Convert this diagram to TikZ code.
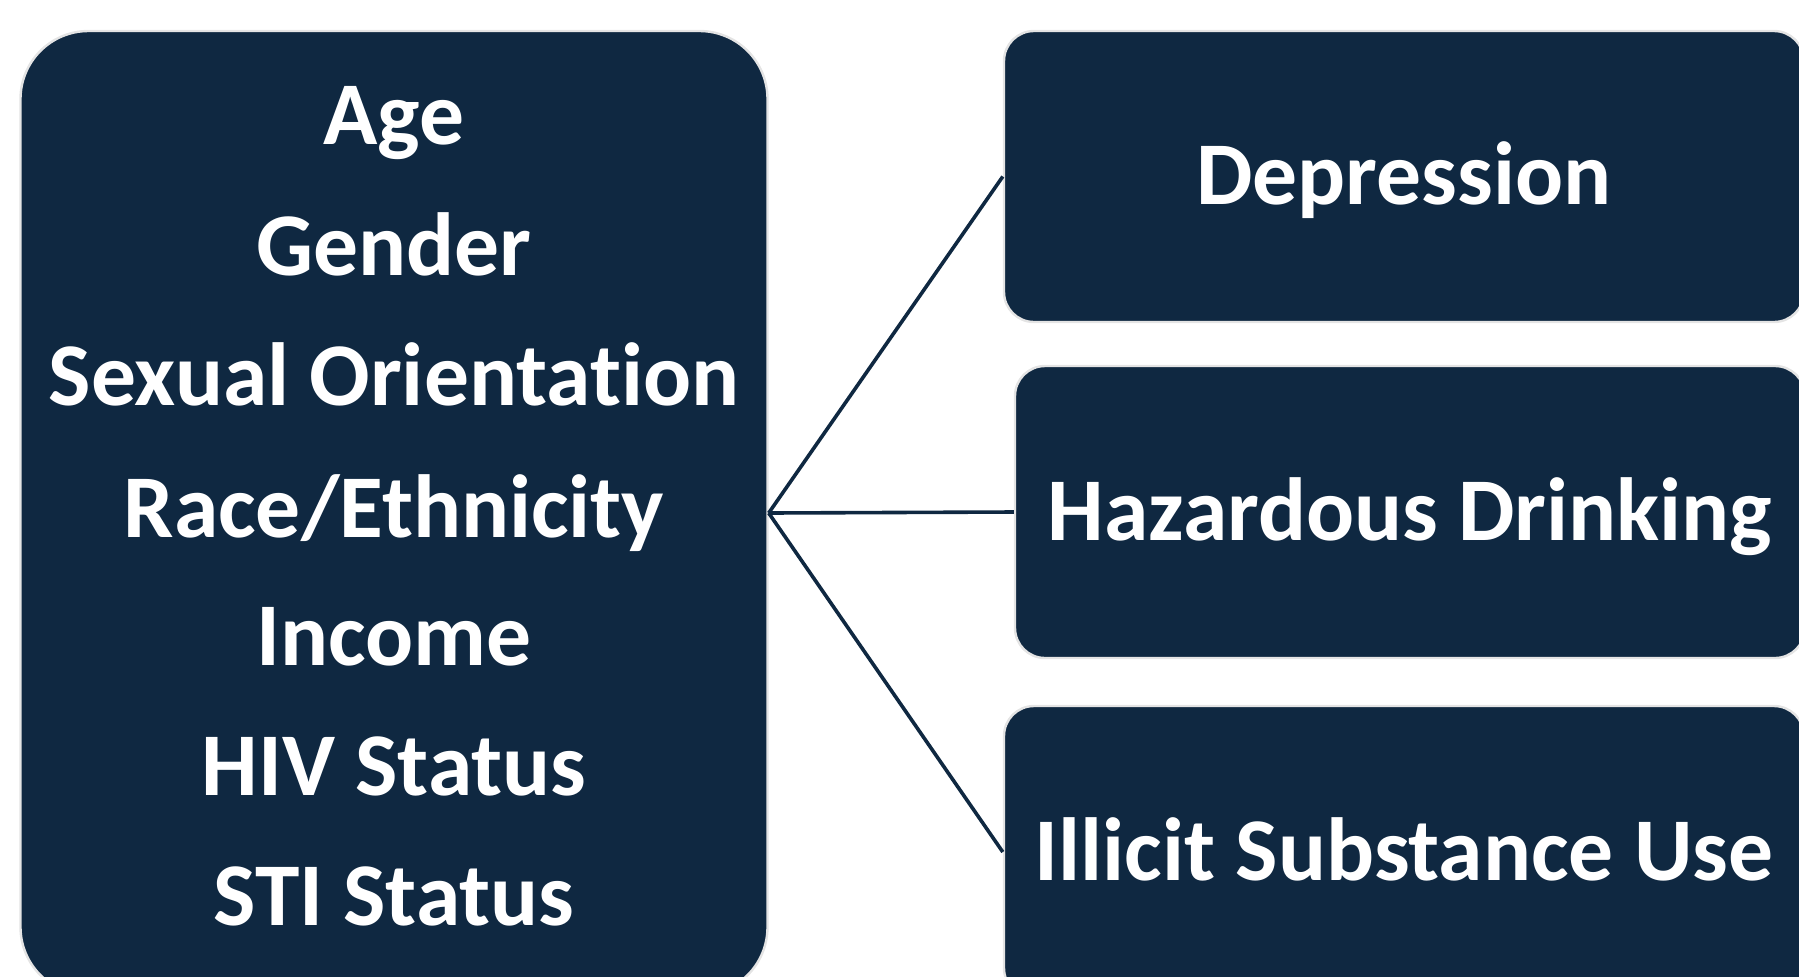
\documentclass[tikz,border=0pt]{standalone}
\usepackage{fontspec}
\setmainfont[Ligatures={NoCommon,NoRare,NoDiscretionary}]{Carlito}
\definecolor{navy}{HTML}{0F2841}
\definecolor{rim}{HTML}{E4E4E4}
\begin{document}
\begin{tikzpicture}[x=0.5pt,y=-0.5pt,
  box/.style={draw=rim,line width=1.2pt,fill=navy,rectangle,inner sep=0pt},
  bigbox/.style={box,rounded corners=34pt},
  smallbox/.style={box,rounded corners=15pt,text=white,font=\fontsize{44.8}{50}\selectfont\bfseries,text height=28pt,text depth=0pt},
  item/.style={text=white,font=\fontsize{44.8}{50}\selectfont\bfseries,anchor=base,inner sep=0pt},
  link/.style={draw=navy,line width=1.8pt}]
\useasboundingbox (0,0) rectangle (1799,976);
\clip (0,0) rectangle (1799,976);
\node[bigbox,minimum width=373.5pt,minimum height=482pt] (L) at (394,513) {};
\node[smallbox,minimum width=400pt,minimum height=145.5pt] (D) at (1404,176.5) {Depression};
\node[smallbox,minimum width=395pt,minimum height=146pt] (H) at (1410,512) {Hazardous Drinking};
\node[smallbox,minimum width=400pt,minimum height=146pt] (I) at (1404,852) {Illicit Substance Use};
\node[item] (a1) at (394,144) {Age};
\node[item] (a2) at (394,275) {Gender};
\node[item] (a3) at (394,405) {Sexual Orientation};
\node[item] (a4) at (394,537) {Race/Ethnicity};
\node[item] (a5) at (394,665) {Income};
\node[item] (a6) at (394,795) {HIV Status};
\node[item] (a7) at (394,925) {STI Status};
\draw[link] (L.east) -- (D.west);
\draw[link] (L.east) -- (H.west);
\draw[link] (L.east) -- (I.west);
\end{tikzpicture}
\end{document}
